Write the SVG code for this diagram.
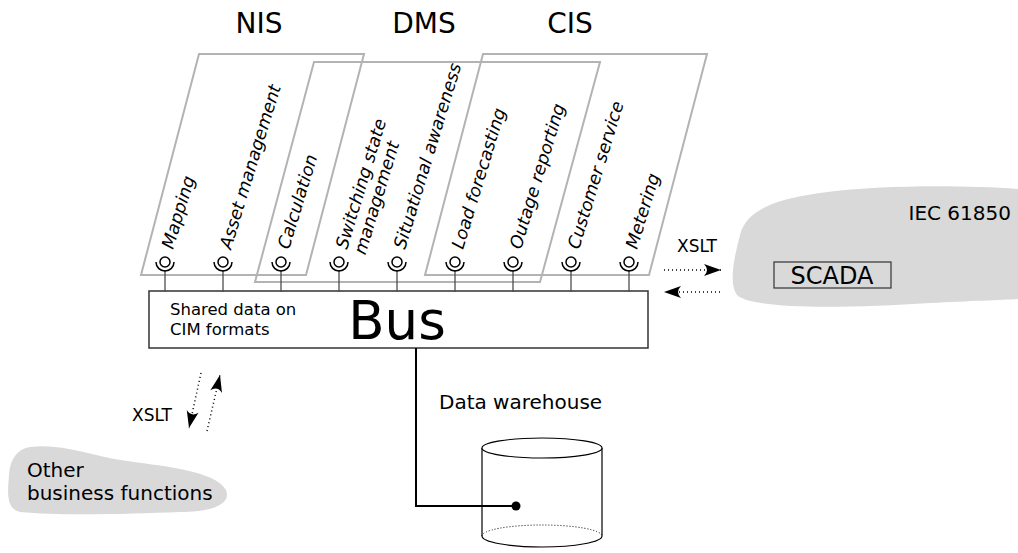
<svg xmlns="http://www.w3.org/2000/svg" width="1018" height="553" viewBox="0 0 1018 553">
  <style>
    text { font-family: "DejaVu Sans", "Liberation Sans", sans-serif; fill: #000; }
    .title { font-size: 28px; text-anchor: middle; }
    .func { font-size: 17.5px; font-style: italic; }
    .lbl { font-size: 17px; }
    .group { fill: none; stroke: #b3b3b3; stroke-width: 2; }
    .blob { fill: #d9d9d9; stroke: none; }
    .stem { stroke: #4d4d4d; stroke-width: 1.3; fill: none; }
    .sock { fill: none; stroke: #000; stroke-width: 1.5; }
    .xslt { stroke: #000; stroke-width: 1.5; stroke-dasharray: 1 3; fill: none; marker-end: url(#dart); }
  </style>
  <defs>
    <marker id="dart" viewBox="-18 -7 20 14" refX="0" refY="0" markerWidth="20" markerHeight="14" markerUnits="userSpaceOnUse" orient="auto">
      <path d="M0,0 L-17,-6 Q-11,0 -17,6 Z" fill="#000"/>
    </marker>
    <g id="socket">
      <line class="stem" x1="0" y1="8" x2="0" y2="30"/>
      <circle class="sock" cx="0" cy="0" r="5"/>
      <path class="sock" d="M-9,0 A9,9 0 0 0 9,0"/>
    </g>
  </defs>

  <!-- system groups -->
  <g id="nis">
    <polygon class="group" points="199,54 364,54 306,275 141,275"/>
    <text class="title" x="259" y="33">NIS</text>
  </g>
  <g id="dms">
    <polygon class="group" points="314,62 600,62 540,282 255,282"/>
    <text class="title" x="424" y="33">DMS</text>
  </g>
  <g id="cis">
    <polygon class="group" points="483,54 707,54 649,275 425,275"/>
    <text class="title" x="570" y="33">CIS</text>
  </g>

  <!-- external systems -->
  <g id="iec61850">
    <path class="blob" d="M1018,189 C960,185 880,185 820,193 C770,200 746,212 740,235 C734,258 728,285 738,296 C758,310 850,308 930,303 C970,301 1000,300 1018,299 Z"/>
    <text x="1011" y="220" font-size="20" text-anchor="end">IEC 61850</text>
    <rect x="774" y="262" width="117" height="26" fill="none" stroke="#333" stroke-width="1.2"/>
    <text x="832" y="284" font-size="24" text-anchor="middle">SCADA</text>
  </g>
  <g id="other-business">
    <path class="blob" d="M30,447 C60,443 90,455 120,460 C160,466 215,470 226,490 C232,505 210,512 180,512 C130,514 60,516 20,512 C5,508 8,490 9,475 C10,458 18,449 30,447 Z"/>
    <text x="27" y="477" font-size="20">Other</text>
    <text x="27" y="500" font-size="20">business functions</text>
  </g>

  <!-- bus -->
  <g id="bus">
    <rect x="149" y="291" width="499" height="57" fill="#fff" stroke="#333" stroke-width="1.5"/>
    <text x="170" y="315" font-size="16.5">Shared data on</text>
    <text x="170" y="335" font-size="16.5">CIM formats</text>
    <text x="397" y="339" font-size="53" text-anchor="middle">Bus</text>
  </g>

  <!-- data warehouse -->
  <g id="warehouse">
    <text x="439" y="409" font-size="20">Data warehouse</text>
    <path d="M482,448 L482,536 A60,11 0 0 0 602,536 L602,448" fill="#fff" stroke="#000" stroke-width="1.2"/>
    <path d="M482,536 A60,11 0 0 1 602,536" fill="none" stroke="#000" stroke-width="1" stroke-dasharray="1 2"/>
    <ellipse cx="542" cy="448" rx="60" ry="10" fill="#fff" stroke="#000" stroke-width="1.2"/>
  </g>

  <!-- bus functions -->
  <g id="functions">
    <use href="#socket" x="165" y="262"/>
    <use href="#socket" x="223" y="262"/>
    <use href="#socket" x="281" y="262"/>
    <use href="#socket" x="339" y="262"/>
    <use href="#socket" x="397" y="262"/>
    <use href="#socket" x="455" y="262"/>
    <use href="#socket" x="513" y="262"/>
    <use href="#socket" x="571" y="262"/>
    <use href="#socket" x="629" y="262"/>
    <text class="func" transform="translate(173,250) rotate(-73)">Mapping</text>
    <text class="func" transform="translate(231,250) rotate(-73)">Asset management</text>
    <text class="func" transform="translate(289,250) rotate(-73)">Calculation</text>
    <text class="func" transform="translate(347,250) rotate(-73)"><tspan x="0" y="0">Switching state</tspan><tspan x="0" y="19">management</tspan></text>
    <text class="func" transform="translate(405,250) rotate(-73)">Situational awareness</text>
    <text class="func" transform="translate(463,250) rotate(-73)">Load forecasting</text>
    <text class="func" transform="translate(521,250) rotate(-73)">Outage reporting</text>
    <text class="func" transform="translate(579,250) rotate(-73)">Customer service</text>
    <text class="func" transform="translate(637,250) rotate(-73)">Metering</text>
  </g>

  <!-- connectors -->
  <g id="connectors">
    <path d="M416,348 L416,506 L516,506" fill="none" stroke="#000" stroke-width="2"/>
    <circle cx="516" cy="506" r="4.5" fill="#000"/>
    <line class="xslt" x1="664" y1="270" x2="721" y2="270"/>
    <line class="xslt" x1="720" y1="292" x2="664" y2="292"/>
    <line class="xslt" x1="201" y1="373" x2="189" y2="428"/>
    <line class="xslt" x1="207" y1="431" x2="220" y2="375"/>
    <text class="lbl" x="677" y="252">XSLT</text>
    <text class="lbl" x="132" y="421">XSLT</text>
  </g>
</svg>
